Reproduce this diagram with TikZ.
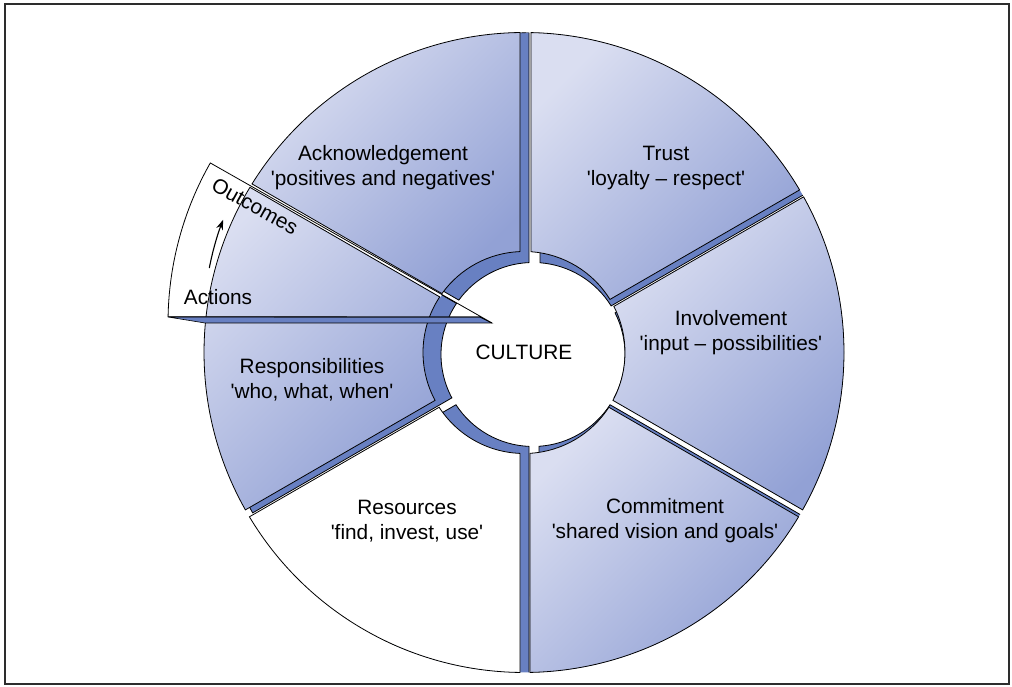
\documentclass[tikz,border=0pt]{standalone}
\usepackage{fontspec}
\setmainfont{Liberation Sans}
\usetikzlibrary{calc,arrows.meta}
\definecolor{segLight}{RGB}{218,222,241}
\definecolor{segDark}{RGB}{146,161,213}
\definecolor{segSide}{RGB}{104,128,194}
\definecolor{frameGray}{RGB}{45,45,45}
\newcommand{\sq}{\textquotesingle}
% style, centre, start angle, start offset, end angle, end offset, inner r, outer r
\newcommand{\ringseg}[8]{%
  \path[#1] ($(#2)+({#3+asin(#4/#8)}:#8pt)$)
    arc[start angle={#3+asin(#4/#8)}, end angle={#5-asin(#6/#8)}, radius=#8pt]
    -- ($(#2)+({#5-asin(#6/#7)}:#7pt)$)
    arc[start angle={#5-asin(#6/#7)}, end angle={#3+asin(#4/#7)}, radius=#7pt] -- cycle;}
\tikzset{
  segback/.style={fill=segSide, draw=black, line width=0.8},
  segface/.style={draw=black, line width=0.8, top color=segLight, bottom color=segDark, shading angle=45},
  segwhite/.style={draw=black, line width=0.8, fill=white},
  lbl/.style={font=\fontsize{20.8}{25}\selectfont, align=center, inner sep=0pt}
}

\begin{document}
\begin{tikzpicture}[x=1pt, y=1pt]
  \useasboundingbox (0,0) rectangle (1012,687);
  \draw[frameGray, line width=2.8] (5,683) rectangle (1009,3);

  \coordinate (C) at (524,334.5);
  \coordinate (B) at (533,332.5);
  \coordinate (T) at (492,364);

  \begin{scope}
    \clip (C) circle[radius=320pt];
    \ringseg{segback}{B}{30}{3}{90}{7}{92}{322}
    \ringseg{segback}{B}{90}{4}{150}{10}{92}{322}
    \ringseg{segback}{B}{150}{-6}{210}{3}{92}{322}
    \ringseg{segback}{B}{210}{5}{270}{4}{92}{322}
    \ringseg{segback}{B}{270}{6}{330}{5}{92}{322}
    \ringseg{segback}{B}{-30}{3}{30}{5}{92}{322}
  \end{scope}
  \draw[white, line width=3.5] ($(C)+(150:100pt)+(60:8pt)$) -- ($(C)+(150:322pt)+(60:8pt)$);

  \ringseg{segface}{C}{30}{3}{90}{7}{101}{320}
  \ringseg{segface}{C}{90}{4}{150}{10}{101}{320}
  \ringseg{segface}{C}{150}{-6}{210}{3}{101}{320}
  \ringseg{segwhite}{C}{210}{5}{270}{4}{101}{320}
  \ringseg{segface}{C}{270}{6}{330}{5}{101}{320}
  \ringseg{segface}{C}{-30}{3}{30}{5}{101}{320}

  \filldraw[fill=segSide, line width=0.6] (168,370) -- (480,370) -- (T) -- (205,364) -- cycle;
  \draw[line width=0.8] (T) -- ++(150.4:324pt) arc[start angle=150.4, end angle=178.9, radius=324pt]
    -- (480,370) -- (T);
  \draw[-{Stealth[length=10pt, width=7pt]}, line width=1.1] ($(T)+(169:288pt)$)
    arc[start angle=169, end angle=159, radius=288pt];

  \node[lbl] (ack) at (383,519) {Acknowledgement\\\sq{}positives and negatives\sq};
  \node[lbl] (trust) at (666,519) {Trust\\\sq{}loyalty – respect\sq};
  \node[lbl] (inv) at (731,354) {Involvement\\\sq{}input – possibilities\sq};
  \node[lbl] (comm) at (665,166) {Commitment\\\sq{}shared vision and goals\sq};
  \node[lbl] (res) at (407,166) {Resources\\\sq{}find, invest, use\sq};
  \node[lbl] (resp) at (312,307) {Responsibilities\\\sq{}who, what, when\sq};
  \node[lbl] (culture) at (524,335) {CULTURE};
  \node[lbl] (actions) at (218,390) {Actions};
  \node[lbl, rotate=-29] (outcomes) at (255,481) {Outcomes};
\end{tikzpicture}
\end{document}
